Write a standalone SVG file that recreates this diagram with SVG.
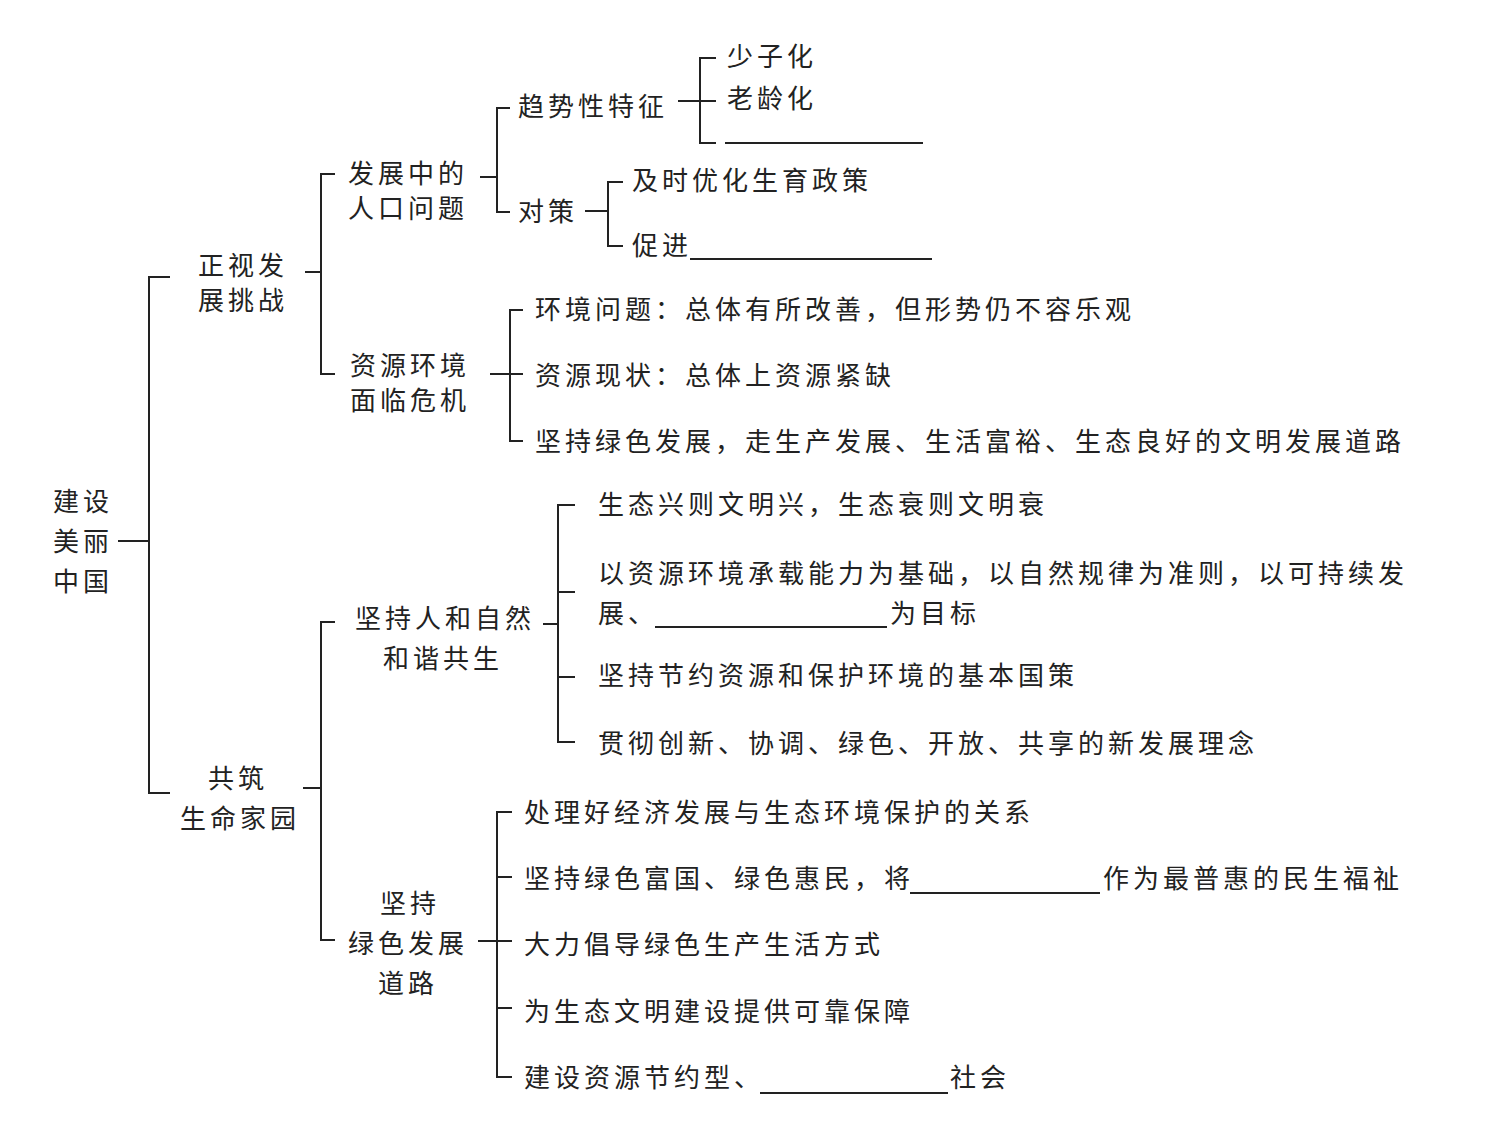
<svg xmlns="http://www.w3.org/2000/svg" width="1489" height="1136" viewBox="0 0 1489 1136">
<style>
  text { font-family: "Noto Sans CJK SC", "Noto Sans", sans-serif; font-size: 26px; letter-spacing: 4px; fill: #222; }
  .ln { fill: none; stroke: #222; stroke-width: 2; }
</style>
<rect width="1489" height="1136" fill="#ffffff"/>
<g id="connectors" class="ln">
  <path d="M118 541 H149"/>
  <path d="M170 277 H149 V793 H170"/>
  <path d="M305 272 H321"/>
  <path d="M335 174 H321 V374 H335"/>
  <path d="M480 177 H497"/>
  <path d="M510 108 H497 V212 H510"/>
  <path d="M678 101 H716"/>
  <path d="M716 58 H700 V143 H716"/>
  <path d="M585 211 H608"/>
  <path d="M623 182 H608 V246 H623"/>
  <path d="M490 374 H523"/>
  <path d="M523 310 H510 V441 H523"/>
  <path d="M303 788 H321"/>
  <path d="M335 622 H321 V940 H335"/>
  <path d="M543 624 H558"/>
  <path d="M575 505 H558 V742 H575"/>
  <path d="M558 592 H575"/>
  <path d="M558 677 H575"/>
  <path d="M478 941 H512"/>
  <path d="M512 812 H497 V1077 H512"/>
  <path d="M497 877 H512"/>
  <path d="M497 1008 H512"/>
</g>
<g id="blanks" class="ln">
  <path d="M725 143 H923"/>
  <path d="M690 259 H932"/>
  <path d="M655 627 H887"/>
  <path d="M910 893 H1100"/>
  <path d="M760 1093 H948"/>
</g>
<g id="root"><text x="53" y="511">建设</text><text x="53" y="551">美丽</text><text x="53" y="591">中国</text></g>
<g id="n-zhengshi"><text x="198" y="275">正视发</text><text x="198" y="310">展挑战</text></g>
<g id="n-renkou"><text x="348" y="183">发展中的</text><text x="348" y="218">人口问题</text></g>
<g id="n-qushi"><text x="518" y="116">趋势性特征</text></g>
<g id="n-shaozi"><text x="727" y="66">少子化</text></g>
<g id="n-laoling"><text x="727" y="108">老龄化</text></g>
<g id="n-duice"><text x="518" y="221">对策</text></g>
<g id="n-jishi"><text x="632" y="190">及时优化生育政策</text></g>
<g id="n-cujin"><text x="632" y="255">促进</text></g>
<g id="n-ziyuan"><text x="350" y="375">资源环境</text><text x="350" y="410">面临危机</text></g>
<g id="n-huanjing"><text x="535" y="319">环境问题：总体有所改善，但形势仍不容乐观</text></g>
<g id="n-xianzhuang"><text x="535" y="385">资源现状：总体上资源紧缺</text></g>
<g id="n-lvse1"><text x="535" y="451">坚持绿色发展，走生产发展、生活富裕、生态良好的文明发展道路</text></g>
<g id="n-gongzhu"><text x="208" y="788">共筑</text><text x="180" y="828">生命家园</text></g>
<g id="n-hexie"><text x="355" y="628">坚持人和自然</text><text x="383" y="668">和谐共生</text></g>
<g id="n-xing"><text x="598" y="514">生态兴则文明兴，生态衰则文明衰</text></g>
<g id="n-chengzai"><text x="598" y="583">以资源环境承载能力为基础，以自然规律为准则，以可持续发</text><text x="598" y="623">展、</text><text x="890" y="623">为目标</text></g>
<g id="n-guoce"><text x="598" y="685">坚持节约资源和保护环境的基本国策</text></g>
<g id="n-linian"><text x="598" y="753">贯彻创新、协调、绿色、开放、共享的新发展理念</text></g>
<g id="n-daolu"><text x="380" y="913">坚持</text><text x="348" y="953">绿色发展</text><text x="378" y="993">道路</text></g>
<g id="n-guanxi"><text x="524" y="822">处理好经济发展与生态环境保护的关系</text></g>
<g id="n-fuguo"><text x="524" y="888">坚持绿色富国、绿色惠民，将</text><text x="1103" y="888">作为最普惠的民生福祉</text></g>
<g id="n-changdao"><text x="524" y="954">大力倡导绿色生产生活方式</text></g>
<g id="n-baozhang"><text x="524" y="1021">为生态文明建设提供可靠保障</text></g>
<g id="n-shehui"><text x="524" y="1087">建设资源节约型、</text><text x="950" y="1087">社会</text></g>
</svg>
